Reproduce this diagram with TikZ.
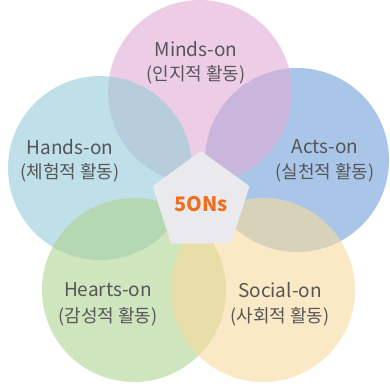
\documentclass[tikz,border=0pt]{standalone}
\usepackage{fontspec}
\setmainfont{Noto Sans CJK KR}
\usetikzlibrary{shapes.geometric}

\definecolor{mindscol}{RGB}{225,172,213}
\definecolor{handscol}{RGB}{148,203,217}
\definecolor{actscol}{RGB}{112,160,217}
\definecolor{heartscol}{RGB}{175,212,145}
\definecolor{socialcol}{RGB}{248,218,158}
\definecolor{labelcol}{RGB}{85,85,88}
\definecolor{corecol}{RGB}{234,234,238}
\definecolor{fivecol}{RGB}{240,110,30}

\begin{document}
\begin{tikzpicture}[x=1pt,y=-1pt,
  petal/.style={circle,minimum size=184pt,inner sep=0pt,fill opacity=0.6},
  tag/.style={text=labelcol,font=\fontsize{19}{22}\selectfont,inner sep=0pt},
  ktag/.style={text=labelcol,font=\fontsize{18}{22}\selectfont,inner sep=0pt},
  core/.style={regular polygon,regular polygon sides=5,minimum size=102pt,
    inner sep=0pt,fill=corecol},
  ]
\useasboundingbox (0,0) rectangle (390,385);

% five overlapping circles
\node[petal,fill=actscol]   (acts)   at (297,160) {};
\node[petal,fill=mindscol]  (minds)  at (200,92)  {};
\node[petal,fill=handscol]  (hands)  at (100,168) {};
\node[petal,fill=heartscol] (hearts) at (134,290) {};
\node[petal,fill=socialcol] (social) at (263,290) {};

% centre
\node[core] (ons) at (201,202) {};
\node[text=fivecol,font=\fontsize{20}{22}\selectfont\bfseries] (onstxt) at (201,204) {5ONs};

% labels
\node[tag]  (mindsA)  at (196,49)  {Minds-on};
\node[ktag] (mindsB)  at (196,75)  {(인지적 활동)};
\node[tag]  (handsA)  at (70,147)  {Hands-on};
\node[ktag] (handsB)  at (70,173)  {(체험적 활동)};
\node[tag]  (actsA)   at (325,147) {Acts-on};
\node[ktag] (actsB)   at (325,173) {(실천적 활동)};
\node[tag]  (heartsA) at (108,290) {Hearts-on};
\node[ktag] (heartsB) at (108,317) {(감성적 활동)};
\node[tag]  (socialA) at (280,290) {Social-on};
\node[ktag] (socialB) at (280,317) {(사회적 활동)};

\end{tikzpicture}
\end{document}
